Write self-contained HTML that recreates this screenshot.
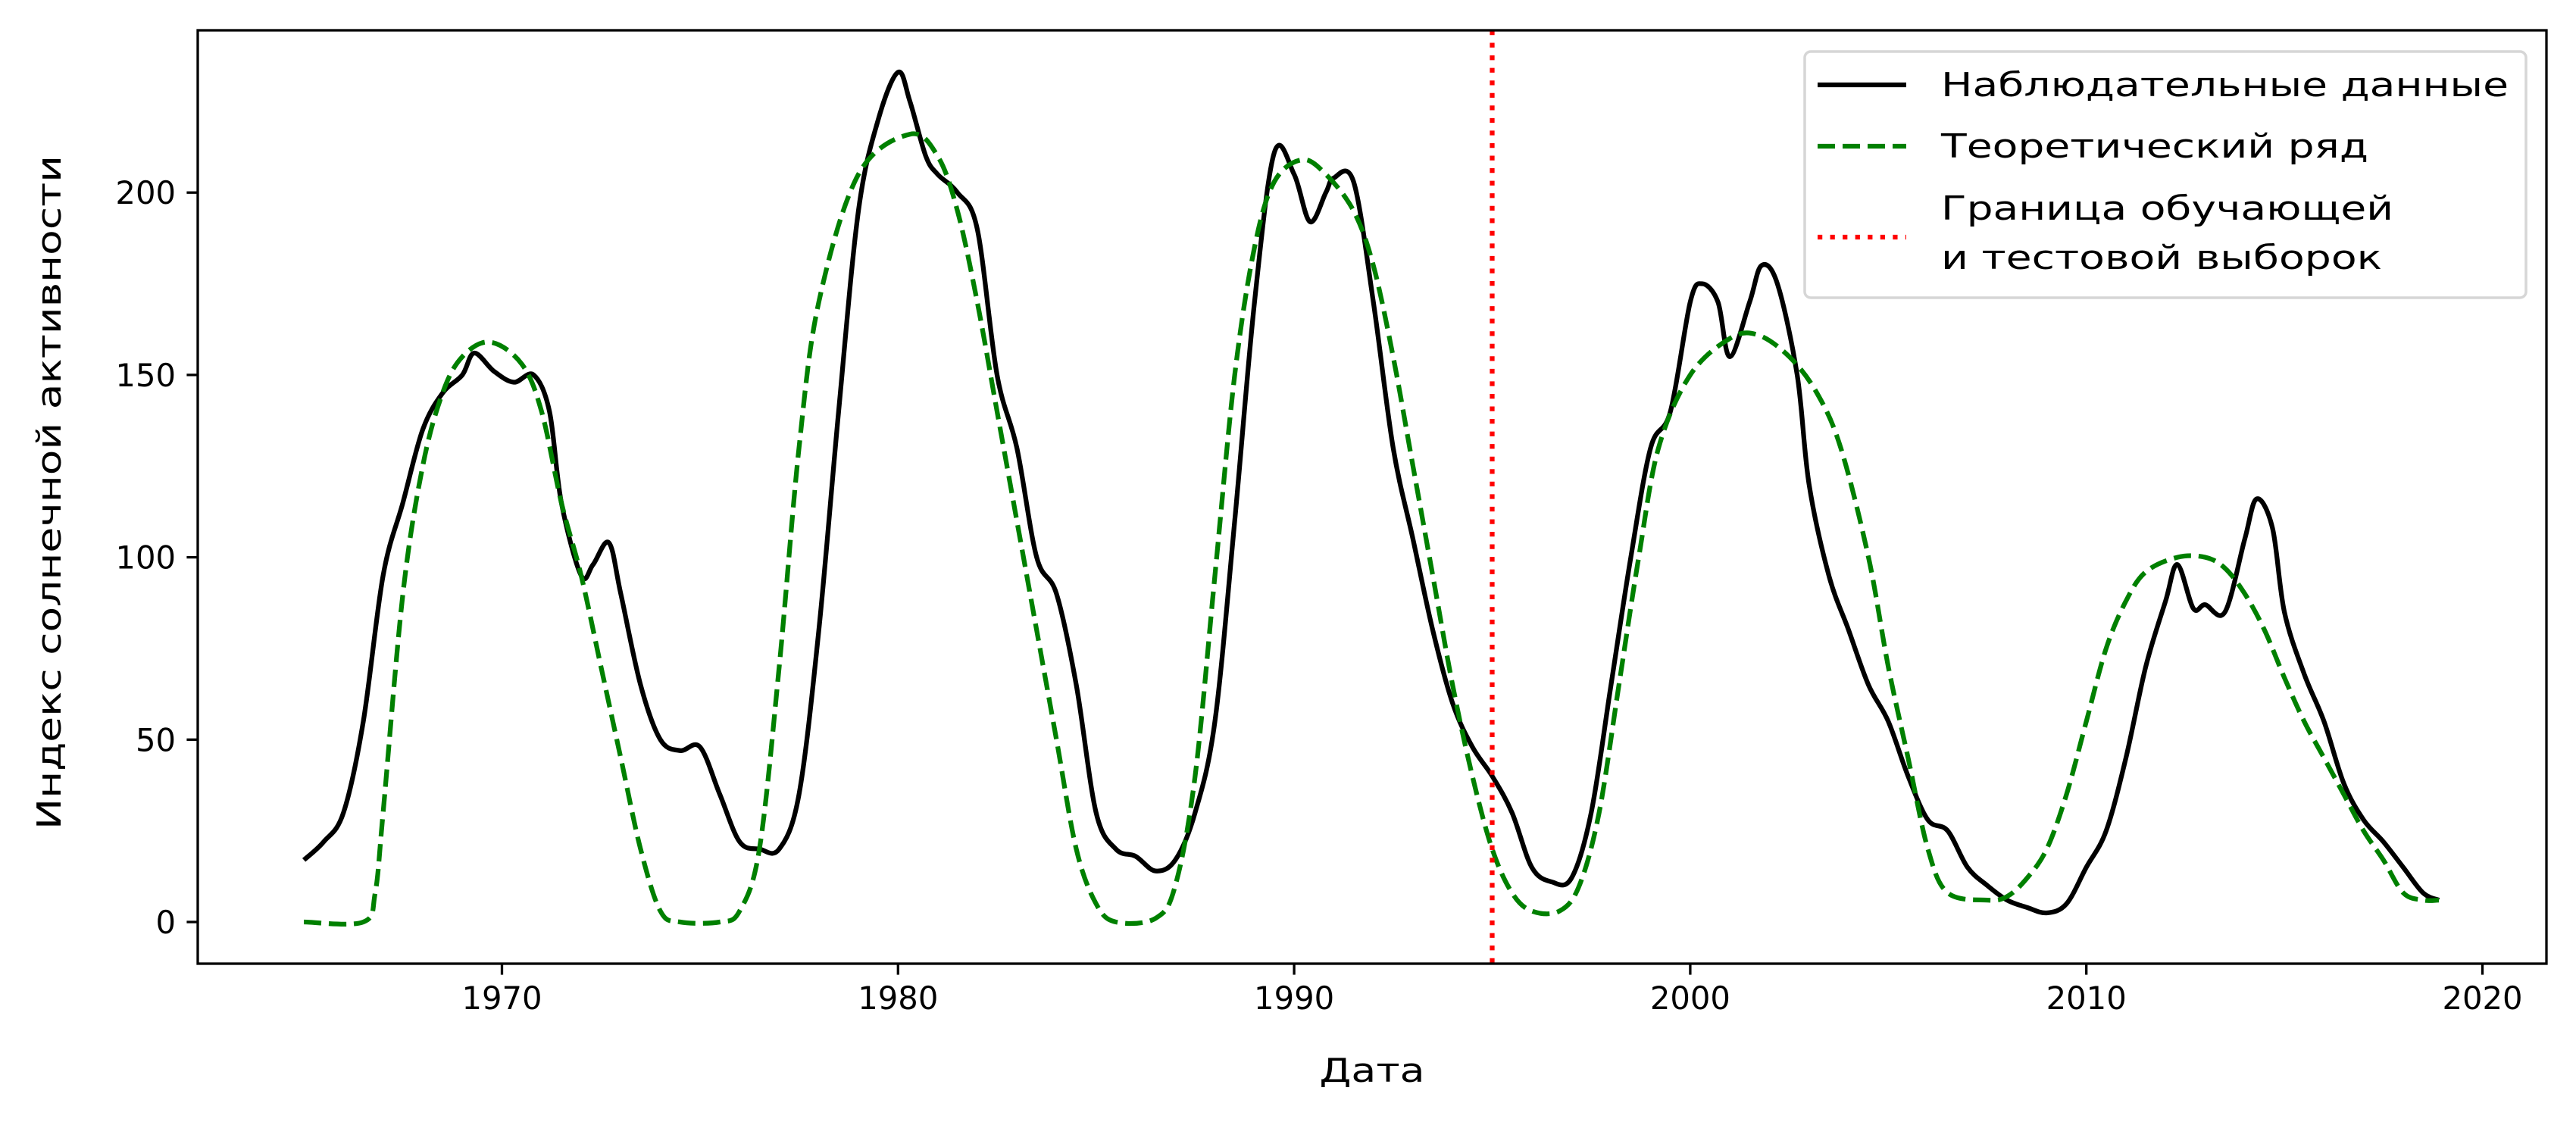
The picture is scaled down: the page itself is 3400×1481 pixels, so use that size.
<!DOCTYPE html>
<html><head><meta charset="utf-8"><style>
html,body{margin:0;padding:0;background:#fff;}
svg{display:block;font-family:"DejaVu Sans","Liberation Sans",sans-serif;}
</style></head><body>
<svg id="chart" width="3400" height="1481" viewBox="0 0 3400 1481" xmlns="http://www.w3.org/2000/svg">
<rect width="3400" height="1481" fill="#fff"/>
<g id="plot"></g>
<g id="axes"></g>
<g id="legend">
<rect x="2382" y="68" width="952" height="325" rx="8" fill="#fff" fill-opacity="0.8" stroke="#d6d6d6" stroke-width="3.5"/>
<line x1="2399" y1="112" x2="2516" y2="112" stroke="#000" stroke-width="6.25"/>
<text x="2562" y="127" font-size="44" textLength="749" lengthAdjust="spacingAndGlyphs">Наблюдательные данные</text>
<line x1="2399" y1="193" x2="2516" y2="193" stroke="#008000" stroke-width="6.25" stroke-dasharray="23,10"/>
<text x="2562" y="208" font-size="44" textLength="564" lengthAdjust="spacingAndGlyphs">Теоретический ряд</text>
<line x1="2399" y1="313" x2="2516" y2="313" stroke="#ff0000" stroke-width="6.25" stroke-dasharray="6.25,10.3"/>
<text x="2562" y="290" font-size="44" textLength="597" lengthAdjust="spacingAndGlyphs">Граница обучающей</text>
<text x="2562" y="355" font-size="44" textLength="582" lengthAdjust="spacingAndGlyphs">и тестовой выборок</text>
</g>
</svg>
<script>
const obsYears=[1965,1965.5,1966,1966.5,1967,1967.5,1968,1968.5,1969,1969.3,1969.8,1970.3,1970.8,1971.2,1971.5,1972,1972.3,1972.7,1973,1973.5,1974,1974.5,1975,1975.5,1976,1976.5,1977,1977.5,1978,1978.5,1979,1979.5,1980,1980.3,1980.7,1981,1981.5,1982,1982.5,1983,1983.5,1984,1984.5,1985,1985.5,1986,1986.5,1987,1987.5,1988,1988.5,1989,1989.5,1990,1990.4,1990.8,1991,1991.5,1992,1992.5,1993,1993.5,1994,1994.5,1995,1995.5,1996,1996.5,1997,1997.5,1998,1998.5,1999,1999.5,2000,2000.3,2000.7,2001,2001.5,2001.8,2002.2,2002.7,2003,2003.5,2004,2004.5,2005,2005.5,2006,2006.5,2007,2007.5,2008,2008.5,2009,2009.5,2010,2010.5,2011,2011.5,2012,2012.3,2012.7,2013,2013.5,2014,2014.3,2014.7,2015,2015.5,2016,2016.5,2017,2017.5,2018,2018.5,2018.9];
const obsValues=[17,22,30,55,95,115,135,145,150,156,151,148,150,140,115,95,98,104,90,65,50,47,48,35,22,20,20,35,80,140,195,220,233,225,210,205,200,190,150,130,100,90,65,30,20,18,14,17,30,55,110,170,211,205,192,200,204,203,170,130,105,80,60,48,40,30,15,11,12,30,65,100,130,140,170,175,170,155,170,180,175,150,120,95,80,65,55,40,28,25,15,10,6,4,2.5,5,15,25,45,70,88,98,86,87,85,105,116,108,85,68,55,38,28,22,15,8,6];
const theoYears=[1965,1966.5,1966.8,1967,1967.5,1968,1968.5,1969,1969.7,1970.5,1971,1971.5,1972,1972.5,1973,1973.5,1974,1974.5,1975.5,1976,1976.5,1977,1977.5,1978,1979,1980.3,1981,1981.5,1982,1982.5,1983,1983.5,1984,1984.5,1985,1985.5,1986.5,1987,1987.5,1988,1988.5,1989,1989.5,1990.2,1990.8,1991.5,1992,1992.5,1993,1993.5,1994,1994.5,1995,1995.5,1996,1996.7,1997.2,1997.7,1998.2,1998.7,1999.2,2000,2001,2001.7,2002.5,2003.2,2003.8,2004.5,2005,2005.5,2006,2006.5,2007.5,2008,2008.5,2009,2009.5,2010,2010.5,2011,2011.5,2012.3,2013,2013.5,2014,2014.5,2015,2015.5,2016,2016.5,2017,2017.5,2018,2018.5,2018.9];
const theoValues=[0,0,8,30,90,125,145,155,159,153,140,115,95,70,45,20,3,0,0,3,20,70,130,170,205,216,210,195,170,140,110,80,50,20,5,0,1,10,40,95,150,185,203,209,205,195,180,155,125,95,65,40,20,8,3,3,10,30,65,100,130,150,160,161,155,145,130,100,70,45,20,8,6,7,12,20,35,55,75,88,96,100,100,97,90,80,67,55,45,35,25,17,8,6,6];
const boundaryYear=[1995.0];
const xTicks=[1970,1980,1990,2000,2010,2020];
const yTicks=[0,50,100,150,200];

const L=261,R=3361,T=40,B=1272;
const xS=t=>662.5+(t-1970)*52.28;
const yS=v=>1217-v*4.814;
const NS="http://www.w3.org/2000/svg";
const plot=document.getElementById('plot'),axes=document.getElementById('axes');
function mk(tag,attrs,parent){const e=document.createElementNS(NS,tag);for(const k in attrs)e.setAttribute(k,attrs[k]);parent.appendChild(e);return e;}
function smooth(xs,ys){
  const p=xs.map((x,i)=>[xS(x),yS(ys[i])]);
  let d=`M${p[0][0]},${p[0][1]}`;
  for(let i=0;i<p.length-1;i++){
    const p0=p[Math.max(0,i-1)],p1=p[i],p2=p[i+1],p3=p[Math.min(p.length-1,i+2)];
    const c1=[p1[0]+(p2[0]-p0[0])/6,p1[1]+(p2[1]-p0[1])/6];
    const c2=[p2[0]-(p3[0]-p1[0])/6,p2[1]-(p3[1]-p1[1])/6];
    d+=` C${c1[0]},${c1[1]} ${c2[0]},${c2[1]} ${p2[0]},${p2[1]}`;
  }
  return d;
}
const obs=mk('path',{d:smooth(obsYears,obsValues),fill:'none',stroke:'#000','stroke-width':6.25,'stroke-linejoin':'round'},plot);


const th=mk('path',{d:smooth(theoYears,theoValues),fill:'none',stroke:'#008000','stroke-width':6.25,'stroke-dasharray':'23,10'},plot);


boundaryYear.forEach(b=>{
  const l=mk('line',{x1:xS(b),x2:xS(b),y1:T,y2:B,stroke:'#ff0000','stroke-width':6.25,'stroke-dasharray':'6.25,10.3'},plot);
  
  
});
const frame=mk('rect',{x:L,y:T,width:R-L,height:B-T,fill:'none',stroke:'#000','stroke-width':3.3},axes);


xTicks.forEach(t=>{
  const x=xS(t);
  const tk=mk('line',{x1:x,x2:x,y1:B,y2:B+14.6,stroke:'#000','stroke-width':3.3},axes);
  
  
  const tx=mk('text',{x:x,y:B+60,'font-size':41.7,'text-anchor':'middle'},axes);
  tx.textContent=t;
  
  
});
yTicks.forEach(v=>{
  const y=yS(v);
  const tk=mk('line',{x1:L-14.6,x2:L,y1:y,y2:y,stroke:'#000','stroke-width':3.3},axes);
  
  
  const tx=mk('text',{x:L-29,y:y+15,'font-size':41.7,'text-anchor':'end'},axes);
  tx.textContent=v;
  
  
});
const xl=mk('text',{x:1811,y:1428,'font-size':44,'text-anchor':'middle',textLength:139,lengthAdjust:'spacingAndGlyphs'},axes);
xl.textContent='Дата';


const yl=mk('text',{x:0,y:0,'font-size':44,'text-anchor':'middle',textLength:890,lengthAdjust:'spacingAndGlyphs',transform:`translate(80,650) rotate(-90)`},axes);
yl.textContent='Индекс солнечной активности';


</script>
</body></html>
